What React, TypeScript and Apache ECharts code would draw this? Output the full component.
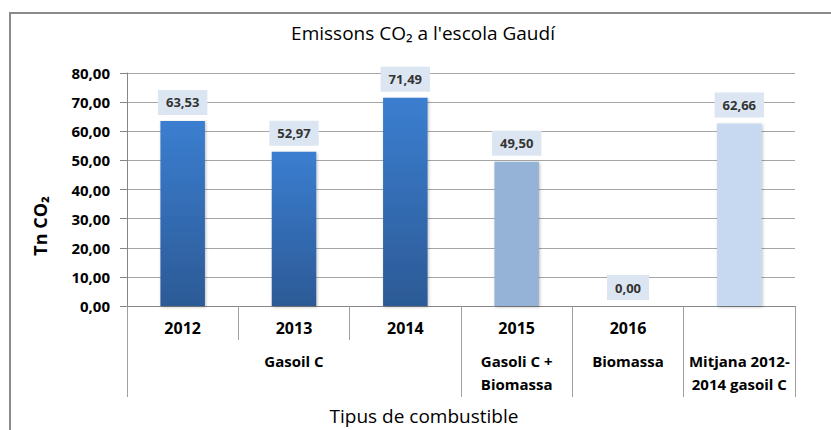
import React, { useEffect, useRef } from 'react';
import * as echarts from 'echarts';

const years = ['2012', '2013', '2014', '2015', '2016', ''];
const fuelGroups = ['', 'Gasoil C', '', 'Gasoli C +\nBiomassa', 'Biomassa', 'Mitjana 2012-\n2014 gasoil C'];
const emissions = [63.53, 52.97, 71.49, 49.5, 0.0, 62.66];
const groupStarts = [0, 3, 4, 5];
const titleText = "Emissons CO\u2082 a l'escola Gaud\u00ed";
const yAxisTitle = 'Tn CO\u2082';
const xAxisTitle = 'Tipus de combustible';
const yMin = 0;
const yMax = 80;
const yStep = 10;

const FONT = "'Open Sans', 'Noto Sans', sans-serif";
const fmt = (v: number) => v.toFixed(2).replace('.', ',');

export default function App() {
  const ref = useRef<HTMLDivElement>(null);
  useEffect(() => {
    if (!ref.current) return;
    const chart = echarts.init(ref.current, undefined, { renderer: 'svg' });
    const darkBlue = new echarts.graphic.LinearGradient(0, 0, 0, 1, [
      { offset: 0, color: '#3b7ed0' },
      { offset: 1, color: '#2c5a96' },
    ]);
    const barColors = [darkBlue, darkBlue, darkBlue, '#95b3d7', '#95b3d7', '#c6d9f0'];
    chart.setOption({
      animation: false,
      backgroundColor: '#ffffff',
      grid: { left: 127, top: 73, width: 668, height: 233, containLabel: false },
      graphic: [
        {
          type: 'rect',
          shape: { x: 10, y: 13, width: 900, height: 500 },
          style: { fill: 'none', stroke: '#8a8a8a', lineWidth: 2 },
          silent: true,
        },
        {
          type: 'text',
          x: 423,
          y: 33,
          style: {
            text: titleText,
            fontFamily: FONT,
            fontSize: 19,
            fill: '#000',
            textAlign: 'center',
            textVerticalAlign: 'middle',
          },
        },
        {
          type: 'text',
          x: 40,
          y: 226,
          rotation: Math.PI / 2,
          style: {
            text: yAxisTitle,
            fontFamily: FONT,
            fontSize: 18,
            fontWeight: 'bold',
            fill: '#000',
            textAlign: 'center',
            textVerticalAlign: 'middle',
          },
        },
        {
          type: 'text',
          x: 424,
          y: 416,
          style: {
            text: xAxisTitle,
            fontFamily: FONT,
            fontSize: 19,
            fill: '#000',
            textAlign: 'center',
            textVerticalAlign: 'middle',
          },
        },
      ],
      xAxis: [
        {
          type: 'category',
          position: 'bottom',
          data: years,
          axisLine: { show: true, onZero: false, lineStyle: { color: '#868686', width: 1 } },
          axisTick: { show: true, length: 34, interval: 0, lineStyle: { color: '#a0a0a0' } },
          axisLabel: {
            interval: 0,
            margin: 12,
            fontFamily: FONT,
            fontSize: 16,
            fontWeight: 'bold',
            lineHeight: 20,
            color: '#000',
          },
          splitLine: { show: false },
        },
        {
          type: 'category',
          position: 'bottom',
          data: fuelGroups,
          axisLine: { show: false, onZero: false },
          axisTick: {
            show: true,
            length: 91,
            interval: (i: number) => groupStarts.includes(i),
            lineStyle: { color: '#a0a0a0' },
          },
          axisLabel: {
            interval: 0,
            margin: 43,
            fontFamily: FONT,
            fontSize: 15,
            fontWeight: 'bold',
            lineHeight: 23,
            color: '#000',
          },
          splitLine: { show: false },
        },
      ],
      yAxis: {
        type: 'value',
        min: yMin,
        max: yMax,
        interval: yStep,
        axisLine: { show: true, lineStyle: { color: '#868686' } },
        axisTick: { show: true, inside: false, length: 7, lineStyle: { color: '#868686' } },
        axisLabel: {
          margin: 17,
          fontFamily: FONT,
          fontSize: 15,
          fontWeight: 'bold',
          color: '#000',
          formatter: (v: number) => fmt(v),
        },
        splitLine: { show: true, lineStyle: { color: '#a6a6a6', width: 1 } },
      },
      series: [
        {
          type: 'bar',
          xAxisIndex: 0,
          barWidth: '40%',
          data: emissions.map((v, i) => ({ value: v, itemStyle: { color: barColors[i] } })),
          itemStyle: {
            shadowBlur: 3,
            shadowColor: 'rgba(0,0,0,0.25)',
            shadowOffsetX: 1,
            shadowOffsetY: 1,
          },
          label: {
            show: true,
            position: 'top',
            distance: 6,
            formatter: (p: any) => fmt(p.value),
            fontFamily: FONT,
            fontSize: 13,
            fontWeight: 'bold',
            color: '#333',
            backgroundColor: '#dce6f2',
            padding: [6, 8, 6, 8],
            lineHeight: 13,
          },
        },
      ],
    });
    return () => chart.dispose();
  }, []);
  return (
    <div
      ref={ref}
      style={{ position: 'fixed', left: 0, top: 0, width: 831, height: 430 }}
    />
  );
}
